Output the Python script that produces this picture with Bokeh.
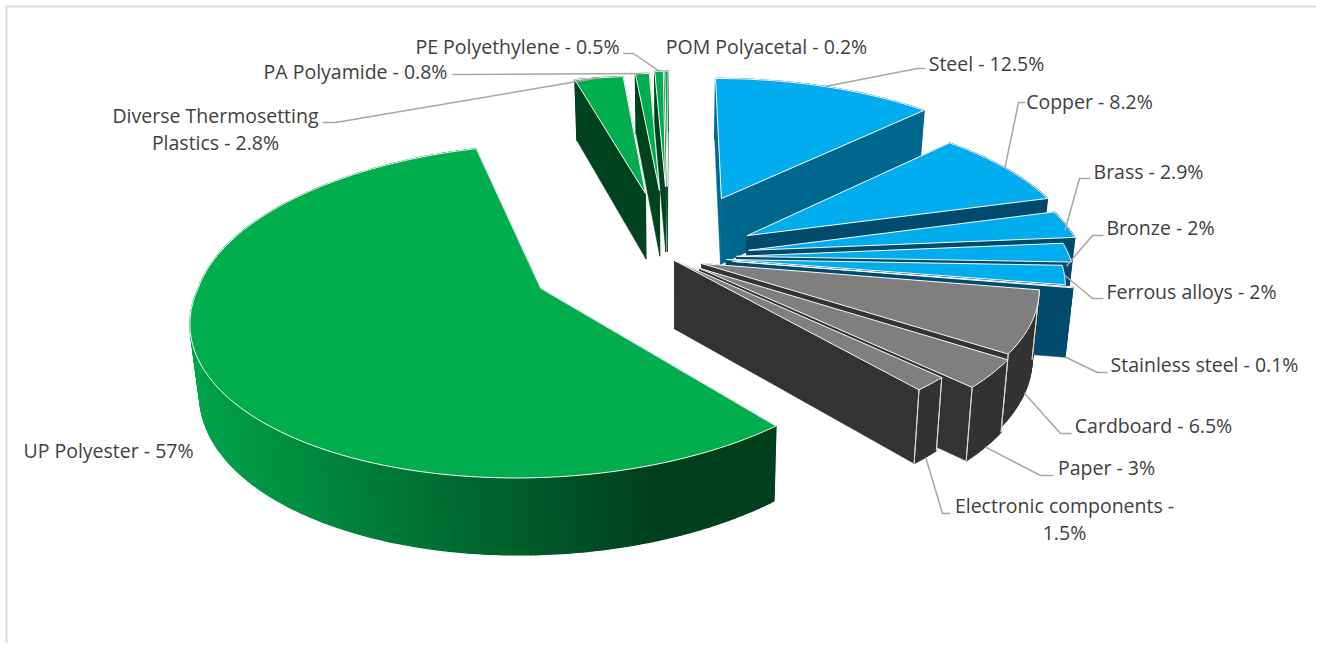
import math
from bokeh.plotting import figure
from bokeh.models import Range1d, ColumnDataSource
from bokeh.core.properties import value
from bokeh.embed import file_html
from bokeh.resources import INLINE

categories = ["Steel", "Copper", "Brass", "Bronze", "Ferrous alloys", "Stainless steel", "Cardboard",
              "Paper", "Electronic components", "UP Polyester", "Diverse Thermosetting Plastics",
              "PA Polyamide", "PE Polyethylene", "POM Polyacetal"]
values = [12.5, 8.2, 2.9, 2, 2, 0.1, 6.5, 3, 1.5, 57, 2.8, 0.8, 0.5, 0.2]

# --- style / layout, one entry per slice ---
explode = [131, 80, 73, 62, 54, 61.5, 38.4, 45.6, 22, 153, 138, 142.6, 152, 152]
twist = [-0.8, 5.5, 10, 13.4, 15.8, 13.4, 26.6, 20.3, 46, -3.9, -2.9, -2.9, -2.4, -3]
radius = [341, 332, 333, 331, 331, 331, 329, 329, 329, 330, 336, 338, 335, 335]
far_stretch = [0, 0, 0, 0, 0, 0, 0, 0, 0, 0.05, 0, 0, 0, 0]
top_col = ["#00AEEF"] * 6 + ["#7F7F7F"] * 3 + ["#00AE4D"] * 5
side_col = ["#00688F"] + ["#004B6E"] * 5 + ["#333333"] * 3 + ["#00431F"] * 5
draw_order = [13, 12, 11, 10, 9, 0, 1, 2, 3, 4, 5, 6, 7, 8]
label_xy = [(986, 63), (1089, 101), (1148, 171), (1160, 227), (1191, 291), (1204, 364), (1153, 425),
            (1106, 467), (1064, 518.5), (108, 450), (215, 128.5), (355, 71), (517, 46), (766, 46)]
label_text_overrides = {8: "Electronic components -\n{v}%", 10: "Diverse Thermosetting\nPlastics - {v}%"}
# elbow and stub of each leader; None = no leader. last value: height on wall where it starts
leaders = [((917, 68), (925, 68), 0), ((1018, 102), (1025, 102), 0), ((1079, 178), (1090, 178), 0.1),
           ((1092, 235), (1103, 235), 0.2), ((1092, 298), (1103, 298), 0), ((1097, 372), (1107, 372), 1),
           ((1060, 433), (1071, 433), 1), ((1040, 475), (1053, 475), 1), ((942, 513), (950, 513), 1),
           None, ((335, 122), (322, 122), 0), ((465, 74), (452, 74), 0), ((633, 53), (623, 53), 0), None]

CX, CY, K, D, H = 675.0, 250.0, 0.45, 2200.0, 68.0


def proj(u, v, z=0.0):
    s = 1.0 / (1.0 + v / D)
    return CX + u * s * (1 - 0.02 * z), CY - K * v * s + z * H * s ** 0.6


def mix(c1, c2, t):
    t = max(0.0, min(1.0, t))
    a = [int(c1[i:i + 2], 16) for i in (1, 3, 5)]
    b = [int(c2[i:i + 2], 16) for i in (1, 3, 5)]
    return "#%02X%02X%02X" % tuple(round(a[i] + (b[i] - a[i]) * t) for i in range(3))


xs, ys, fills, lines, widths = [], [], [], [], []


def add(poly, fill, line, w):
    xs.append([q[0] for q in poly])
    ys.append([q[1] for q in poly])
    fills.append(fill)
    lines.append(line)
    widths.append(w)


angles = []
acc = 0.0
total = sum(values)
for val in values:
    angles.append((acc / total * 2 * math.pi, (acc + val) / total * 2 * math.pi))
    acc += val


def apex(i):
    a0, a1 = angles[i]
    m = (a0 + a1) / 2 + math.radians(twist[i])
    return explode[i] * math.sin(m), explode[i] * math.cos(m)


def rim(i, a):
    u0, v0 = apex(i)
    r = radius[i] * (1 + far_stretch[i] * max(0.0, math.cos(a)))
    return u0 + r * math.sin(a), v0 + r * math.cos(a)


for i in draw_order:
    a0, a1 = angles[i]
    u0, v0 = apex(i)
    n = max(2, int((a1 - a0) / math.radians(0.75)))
    arc = [a0 + (a1 - a0) * k / n for k in range(n + 1)]
    rimuv = [rim(i, a) for a in arc]
    # radial walls
    for a_uv in (rimuv[0], rimuv[-1]):
        quad = [proj(u0, v0), proj(*a_uv), proj(a_uv[0], a_uv[1], 1), proj(u0, v0, 1)]
        add(quad, side_col[i], side_col[i], 0.5)
    # rim wall
    for k in range(n):
        quad = [proj(*rimuv[k]), proj(*rimuv[k + 1]), proj(rimuv[k + 1][0], rimuv[k + 1][1], 1),
                proj(rimuv[k][0], rimuv[k][1], 1)]
        c = side_col[i]
        if values[i] == max(values):
            c = mix("#00A34B", "#00401C", (quad[0][0] - 195) / 460.0)
        add(quad, c, c, 1.3)
    # pale corner lines on the gray wedges
    if top_col[i] == "#7F7F7F":
        for a_uv in (rimuv[0], rimuv[-1]):
            p1, p2 = proj(*a_uv), proj(a_uv[0], a_uv[1], 1)
            add([p1, p2, p1], "#D9D9D9", "#D9D9D9", 1.0)
    # top face
    top = [proj(u0, v0)] + [proj(*q) for q in rimuv]
    add(top, top_col[i], "#FAFAFA", 1.0)

p = figure(width=1316, height=643, x_range=Range1d(0, 1316), y_range=Range1d(643, 0),
           output_backend="svg", toolbar_location=None, min_border=0)
p.axis.visible = False
p.grid.visible = False
p.outline_line_color = None
p.background_fill_color = "white"

# chart frame: top and left only
p.line([6, 6], [643, 6], line_color="#DDDDDD", line_width=2)
p.line([6, 1316], [6, 6], line_color="#DDDDDD", line_width=2)

p.patches("xs", "ys", fill_color="fills", line_color="lines", line_width="widths",
          source=ColumnDataSource(dict(xs=xs, ys=ys, fills=fills, lines=lines, widths=widths)))

# leaders
for i, lead in enumerate(leaders):
    if lead is None:
        continue
    m = sum(angles[i]) / 2
    su, sv = rim(i, m)
    x0, y0 = proj(su, sv, lead[2])
    p.line([x0, lead[0][0], lead[1][0]], [y0, lead[0][1], lead[1][1]], line_color="#A6A6A6", line_width=1.5)

texts = []
for i, (c, v) in enumerate(zip(categories, values)):
    if i in label_text_overrides:
        texts.append(label_text_overrides[i].format(v=v))
    else:
        texts.append(f"{c} - {v}%")
p.text([q[0] for q in label_xy], [q[1] for q in label_xy], text=texts, text_align="center",
       text_baseline="middle", text_font=value("Open Sans"), text_font_size="19.5px",
       text_color="#404040", text_line_height=1.0)

open("out.html", "w").write(file_html(p, INLINE))
